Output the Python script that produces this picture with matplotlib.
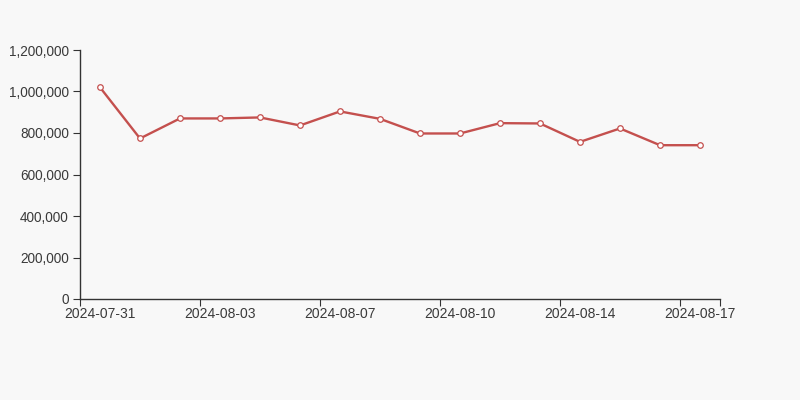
import matplotlib
matplotlib.use("Agg")
import matplotlib.pyplot as plt
from matplotlib.ticker import FuncFormatter, FixedLocator

dates = ["2024-07-31", "2024-08-01", "2024-08-02", "2024-08-03", "2024-08-05",
         "2024-08-06", "2024-08-07", "2024-08-08", "2024-08-09", "2024-08-10",
         "2024-08-12", "2024-08-13", "2024-08-14", "2024-08-15", "2024-08-16",
         "2024-08-17"]
values = [1020000, 773600, 870200, 870200, 875000, 836400, 904000, 868200,
          797700, 797700, 847500, 846000, 757200, 821900, 741200, 741200]
y_ticks = [0, 200000, 400000, 600000, 800000, 1000000, 1200000]

plt.rcParams['font.family'] = ['Liberation Sans', 'DejaVu Sans']
bg = '#f8f8f8'
fig = plt.figure(figsize=(8, 4), dpi=100, facecolor=bg)
ax = fig.add_axes([80/800, 1-299/400, 640/800, 249/400], facecolor=bg)

x = list(range(len(values)))
ax.plot(x, values, color='#c4504e', lw=1.7, marker='o', ms=4,
        markerfacecolor='white', markeredgecolor='#c4504e', markeredgewidth=0.9,
        zorder=3, clip_on=False)

ax.set_xlim(-0.5, len(values) - 0.5)
ax.set_ylim(0, 1200000)
ax.yaxis.set_major_locator(FixedLocator(y_ticks))
ax.yaxis.set_major_formatter(FuncFormatter(lambda v, p: f"{int(v):,}"))

step = 3
major = [i - 0.5 for i in range(0, len(values), step)] + [len(values) - 0.5]
ax.xaxis.set_major_locator(FixedLocator(major))
ax.xaxis.set_major_formatter(FuncFormatter(lambda v, p: ""))
lab_pos = list(range(0, len(values), step))
ax.set_xticks(lab_pos, minor=True)
ax.set_xticklabels([dates[i] for i in lab_pos], minor=True)
ax.tick_params(axis='x', which='minor', length=0, pad=5.5, labelsize=10, labelcolor='#3a3a3a')
ax.tick_params(axis='x', which='major', length=5, color='#333333', direction='out')
ax.tick_params(axis='y', length=5, color='#333333', labelsize=9.8, labelcolor='#3a3a3a', pad=3)

for s in ['top', 'right']:
    ax.spines[s].set_visible(False)
for s in ['left', 'bottom']:
    ax.spines[s].set_color('#333333')
    ax.spines[s].set_linewidth(1)

fig.savefig('out.png', dpi=100, facecolor=bg)
